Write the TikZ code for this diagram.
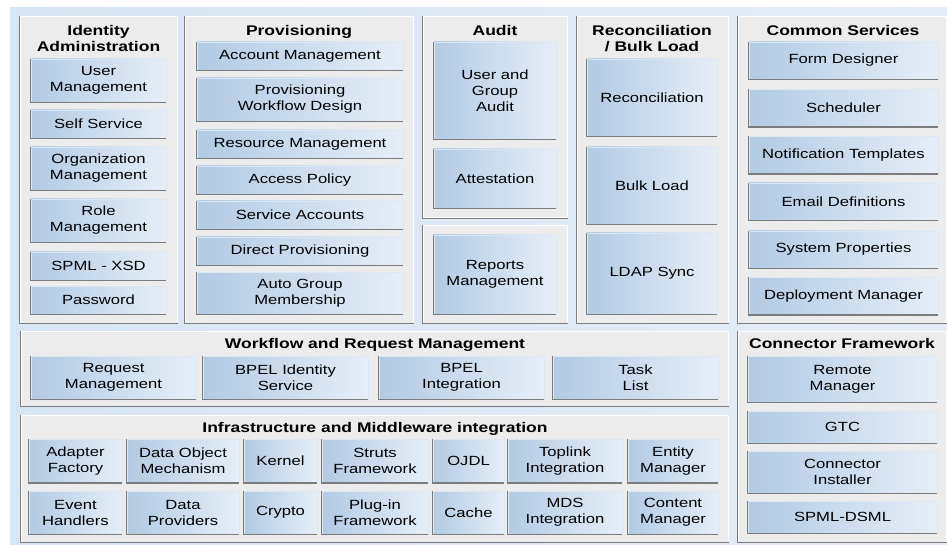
\documentclass[tikz,border=0pt]{standalone}
\usepackage{fontspec}
\newfontfamily\oimfont[FakeStretch=1.25]{Liberation Sans}
\definecolor{bgblue}{HTML}{D8E5F2}
\definecolor{bglight}{HTML}{E4EDF7}
\definecolor{panelgray}{HTML}{ECECEC}
\definecolor{boxblue}{HTML}{B2CAE3}
\definecolor{boxlight}{HTML}{E6EEF7}
\definecolor{edgegray}{HTML}{7C7C7C}
\begin{document}
\begin{tikzpicture}[x=1pt,y=-1pt,
  shadowline/.style={draw=edgegray,line width=1.3pt,to path={|- (\tikztotarget)}},
  panel/.style={rectangle,fill=panelgray,draw=white,line width=1pt,
    append after command={(\tikzlastnode.north west) edge[shadowline] (\tikzlastnode.south east)}},
  title/.style={anchor=north,align=center,inner sep=0pt,
    font=\oimfont\bfseries\fontsize{14}{15.5}\selectfont},
  box/.style={rectangle,left color=boxblue,right color=boxlight,draw=white!55!boxblue,line width=0.8pt,
    align=center,inner sep=1pt,font=\oimfont\fontsize{13.3}{16}\selectfont,
    append after command={(\tikzlastnode.north west) edge[shadowline] (\tikzlastnode.south east)}},
  idbox/.style={box,minimum width=135pt},
  provbox/.style={box,minimum width=206pt},
  auditbox/.style={box,minimum width=122pt},
  reconbox/.style={box,minimum width=130pt},
  commonbox/.style={box,minimum width=189pt,minimum height=37pt},
  wfbox/.style={box,minimum width=165pt,minimum height=43pt},
  infrabox/.style={box,minimum height=43pt}]

  \useasboundingbox (0,0) rectangle (947,545);
  \node[rectangle,left color=bgblue,right color=bglight,draw=none,
    minimum width=937pt,minimum height=537pt] (frame) at (478.5,276.5){};

  \node[panel,minimum width=157pt,minimum height=306pt] (idpanel) at (98.5,170){};
  \node[panel,minimum width=228pt,minimum height=306pt] (provpanel) at (299,170){};
  \node[panel,minimum width=144pt,minimum height=201pt] (auditpanel) at (495,117.5){};
  \node[panel,minimum width=144pt,minimum height=97pt] (reportpanel) at (495,274.5){};
  \node[panel,minimum width=151pt,minimum height=306pt] (reconpanel) at (652.5,170){};
  \node[panel,minimum width=208pt,minimum height=306pt] (commonpanel) at (842,170){};
  \node[panel,minimum width=707pt,minimum height=75pt] (wfpanel) at (374.5,368.5){};
  \node[panel,minimum width=707pt,minimum height=127pt] (infrapanel) at (374.5,478.5){};
  \node[panel,minimum width=208pt,minimum height=211pt] (connpanel) at (842,436.5){};

  \node[title] (idtitle) at (98.5,25.5){Identity\\Administration};
  \node[title] (provtitle) at (299,25.5){Provisioning};
  \node[title] (audittitle) at (495,25.5){Audit};
  \node[title] (recontitle) at (652,25.5){Reconciliation\\/ Bulk Load};
  \node[title] (commontitle) at (843,25.5){Common Services};
  \node[title] (wftitle) at (375,338.5){Workflow and Request Management};
  \node[title] (infratitle) at (375,422.5){Infrastructure and Middleware integration};
  \node[title] (conntitle) at (842,338.5){Connector Framework};

  \node[idbox,minimum height=43pt] (usermgmt) at (98.5,80.5){User\\Management};
  \node[idbox,minimum height=28pt] (selfservice) at (98.5,124){Self Service};
  \node[idbox,minimum height=43pt] (orgmgmt) at (98.5,168.5){Organization\\Management};
  \node[idbox,minimum height=43pt] (rolemgmt) at (98.5,220.5){Role\\Management};
  \node[idbox,minimum height=28pt] (spmlxsd) at (98.5,266){SPML - XSD};
  \node[idbox,minimum height=28pt] (password) at (98.5,300){Password};

  \node[provbox,minimum height=28pt] (accountmgmt) at (300,56){Account Management};
  \node[provbox,minimum height=43pt] (provwf) at (300,99.5){Provisioning\\Workflow Design};
  \node[provbox,minimum height=28pt] (resourcemgmt) at (300,144){Resource Management};
  \node[provbox,minimum height=28pt] (accesspolicy) at (300,180){Access Policy};
  \node[provbox,minimum height=28pt] (serviceacc) at (300,215){Service Accounts};
  \node[provbox,minimum height=28pt] (directprov) at (300,251){Direct Provisioning};
  \node[provbox,minimum height=42pt] (autogroup) at (300,293){Auto Group\\Membership};

  \node[auditbox,minimum height=97pt] (groupaudit) at (495,90.5){User and\\Group\\Audit};
  \node[auditbox,minimum height=59pt] (attestation) at (495,178.5){Attestation};
  \node[auditbox,minimum height=79pt] (reportsmgmt) at (495,274.5){Reports\\Management};

  \node[reconbox,minimum height=77pt] (recon) at (652,97.5){Reconciliation};
  \node[reconbox,minimum height=77pt] (bulkload) at (652,185.5){Bulk Load};
  \node[reconbox,minimum height=81pt] (ldapsync) at (652,273.5){LDAP Sync};

  \node[commonbox] (formdesigner) at (843.5,60.5){Form Designer};
  \node[commonbox] (scheduler) at (843.5,108){Scheduler};
  \node[commonbox] (notiftemplates) at (843.5,155){Notification Templates};
  \node[commonbox] (emaildefs) at (843.5,201.5){Email Definitions};
  \node[commonbox] (sysprops) at (843.5,249.5){System Properties};
  \node[commonbox] (deploymgr) at (843.5,296){Deployment Manager};

  \node[wfbox] (requestmgmt) at (113.5,377.5){Request\\Management};
  \node[wfbox] (bpelidentity) at (285.5,377.5){BPEL Identity\\Service};
  \node[wfbox] (bpelintegration) at (461.5,377.5){BPEL\\Integration};
  \node[wfbox] (tasklist) at (635.5,377.5){Task\\List};

  \node[infrabox,minimum width=93pt] (adapterfactory) at (75.5,461){Adapter\\Factory};
  \node[infrabox,minimum width=112pt] (dataobject) at (183,461){Data Object\\Mechanism};
  \node[infrabox,minimum width=73pt] (kernel) at (280.5,461){Kernel};
  \node[infrabox,minimum width=106pt] (struts) at (375,461){Struts\\Framework};
  \node[infrabox,minimum width=71pt] (ojdl) at (468.5,461){OJDL};
  \node[infrabox,minimum width=114pt] (toplink) at (565,461){Toplink\\Integration};
  \node[infrabox,minimum width=90pt] (entitymgr) at (673,461){Entity\\Manager};
  \node[infrabox,minimum width=93pt] (eventhandlers) at (75.5,512.5){Event\\Handlers};
  \node[infrabox,minimum width=112pt] (dataproviders) at (183,512.5){Data\\Providers};
  \node[infrabox,minimum width=73pt] (crypto) at (280.5,512.5){Crypto};
  \node[infrabox,minimum width=106pt] (plugin) at (375,512.5){Plug-in\\Framework};
  \node[infrabox,minimum width=71pt] (cache) at (468.5,512.5){Cache};
  \node[infrabox,minimum width=114pt] (mds) at (565,512.5){MDS\\Integration};
  \node[infrabox,minimum width=90pt] (contentmgr) at (673,512.5){Content\\Manager};

  \node[box,minimum width=189pt,minimum height=46pt] (remotemgr) at (842.5,379){Remote\\Manager};
  \node[box,minimum width=189pt,minimum height=32pt] (gtc) at (842.5,427){GTC};
  \node[box,minimum width=189pt,minimum height=42pt] (installer) at (842.5,472){Connector\\Installer};
  \node[box,minimum width=189pt,minimum height=32pt] (spmldsml) at (842.5,517){SPML-DSML};
\end{tikzpicture}
\end{document}
